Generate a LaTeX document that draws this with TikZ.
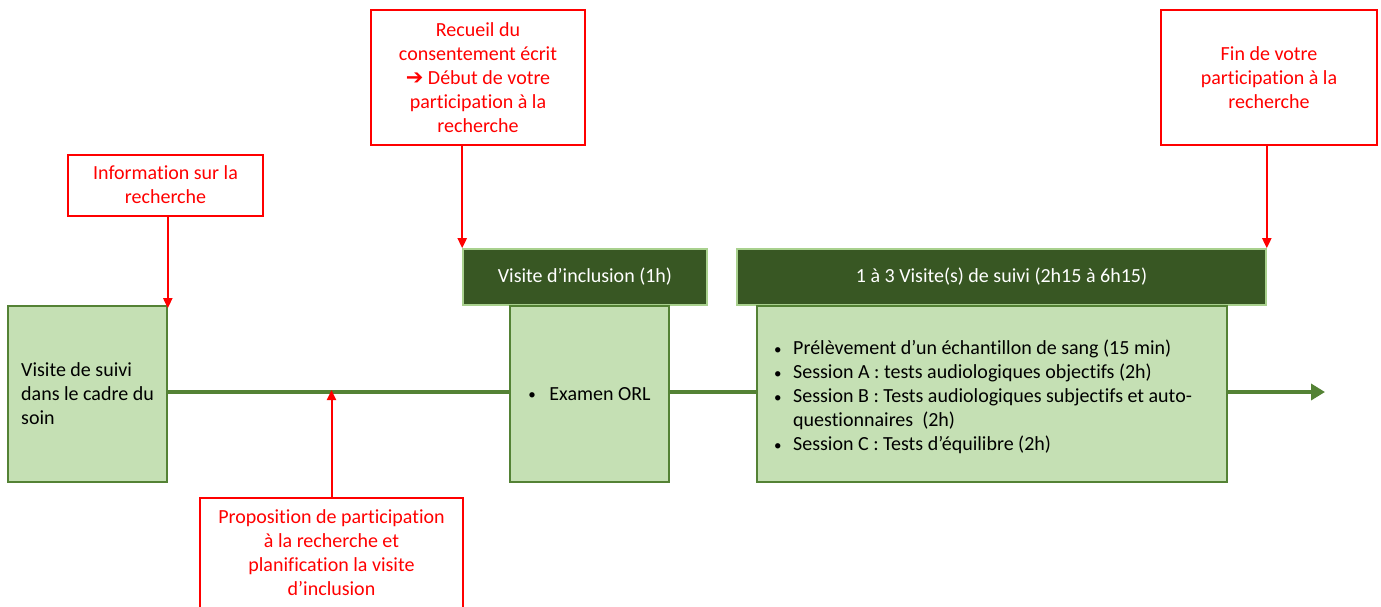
\documentclass[tikz,border=0pt]{standalone}
\usepackage{fontspec}
\setmainfont{Carlito}[Ligatures={NoCommon,NoRare,NoContextual}]
\newfontfamily\dejavu{DejaVu Sans}
\usetikzlibrary{arrows.meta,backgrounds}
\definecolor{myred}{RGB}{255,0,0}
\definecolor{lightg}{RGB}{197,224,180}
\definecolor{midg}{RGB}{84,130,53}
\definecolor{darkg}{RGB}{56,87,35}
\definecolor{hdrborder}{RGB}{169,209,142}
\newcommand{\xti}{t\kern0pt i}
\newcommand{\xfi}{f\kern0pt i}
\newcommand{\bul}{\makebox[19pt][l]{\raisebox{0.5pt}{\fontsize{15}{24}\selectfont •}}}
\tikzset{
  txt/.style={font=\fontsize{20}{24}\selectfont},
  redbox/.style={txt, draw=myred, line width=2, text=myred, align=center, inner sep=0},
  greenbox/.style={txt, draw=midg, fill=lightg, line width=1.6, text=black, inner sep=0},
  hdrbox/.style={txt, draw=hdrborder, fill=darkg, line width=1.6, text=white, align=center, inner sep=0},
  redarrow/.style={draw=myred, line width=2, -{Triangle[length=10,width=9]}},
  timeline/.style={draw=midg, line width=4.5, -{Triangle[length=14,width=16]}}
}
\begin{document}
\begin{tikzpicture}[x=1pt,y=-1pt]
\useasboundingbox (0,0) rectangle (1381,606);
\clip (0,0) rectangle (1381,606);

\node[redbox, minimum width=195, minimum height=61] (info) at (165.5,185) {Informa\xti{}on sur la\\recherche};
\node[greenbox, align=left, minimum width=159, minimum height=176] (visite) at (87.5,394) {Visite de suivi\\dans le cadre du\\soin};
\node[redbox, minimum width=263, minimum height=110] (prop) at (331.5,553) {Proposi\xti{}on de par\xti{}cipa\xti{}on\\à la recherche et\\plani\xfi{}ca\xti{}on la visite\\d’inclusion};
\node[redbox, minimum width=214, minimum height=135] (recueil) at (478,77.5) {Recueil du\\consentement écrit\\{\dejavu\bfseries\fontsize{21}{24}\selectfont ➔} Début de votre\\par\xti{}cipa\xti{}on à la\\recherche};
\node[hdrbox, minimum width=244, minimum height=56] (inclhdr) at (585,277) {\raisebox{-2pt}{Visite d’inclusion (1h)}};
\node[greenbox, minimum width=159, minimum height=176] (examen) at (589.5,394) {\makebox[21pt][l]{\raisebox{0.5pt}{\fontsize{15}{24}\selectfont •}}Examen ORL};
\node[redbox, minimum width=216, minimum height=135] (fin) at (1269,77.5) {Fin de votre\\par\xti{}cipa\xti{}on à la\\recherche};
\node[hdrbox, minimum width=529, minimum height=56] (suivihdr) at (1001.5,277) {\raisebox{-2pt}{1 à 3 Visite(s) de suivi (2h15 à 6h15)}};
\node[greenbox, minimum width=470, minimum height=176] (suivibody) at (992,394) {};
\node[txt, align=left, anchor=west, inner sep=0] (liste) at (774,397) {%
\bul Prélèvement d’un échan\xti{}llon de sang (15 min)\\
\bul Session A : tests audiologiques objec\xti{}fs (2h)\\
\bul Session B : Tests audiologiques subjec\xti{}fs et auto-\\
\makebox[19pt][l]{}ques\xti{}onnaires~~(2h)\\
\bul Session C : Tests d’équilibre (2h)};

\coordinate (lend) at (1325,392);
\begin{pgfonlayer}{background}
\draw[timeline] (visite.east |- lend) -- (lend);
\end{pgfonlayer}

\draw[redarrow] (info.south -| visite.north east) -- ([yshift=-3]visite.north east);
\draw[redarrow] (recueil.south -| inclhdr.north west) -- (inclhdr.north west);
\draw[redarrow] (fin.south -| suivihdr.north east) -- (suivihdr.north east);
\draw[redarrow] (prop.north) -- ([yshift=2]prop.north |- lend);
\end{tikzpicture}
\end{document}
